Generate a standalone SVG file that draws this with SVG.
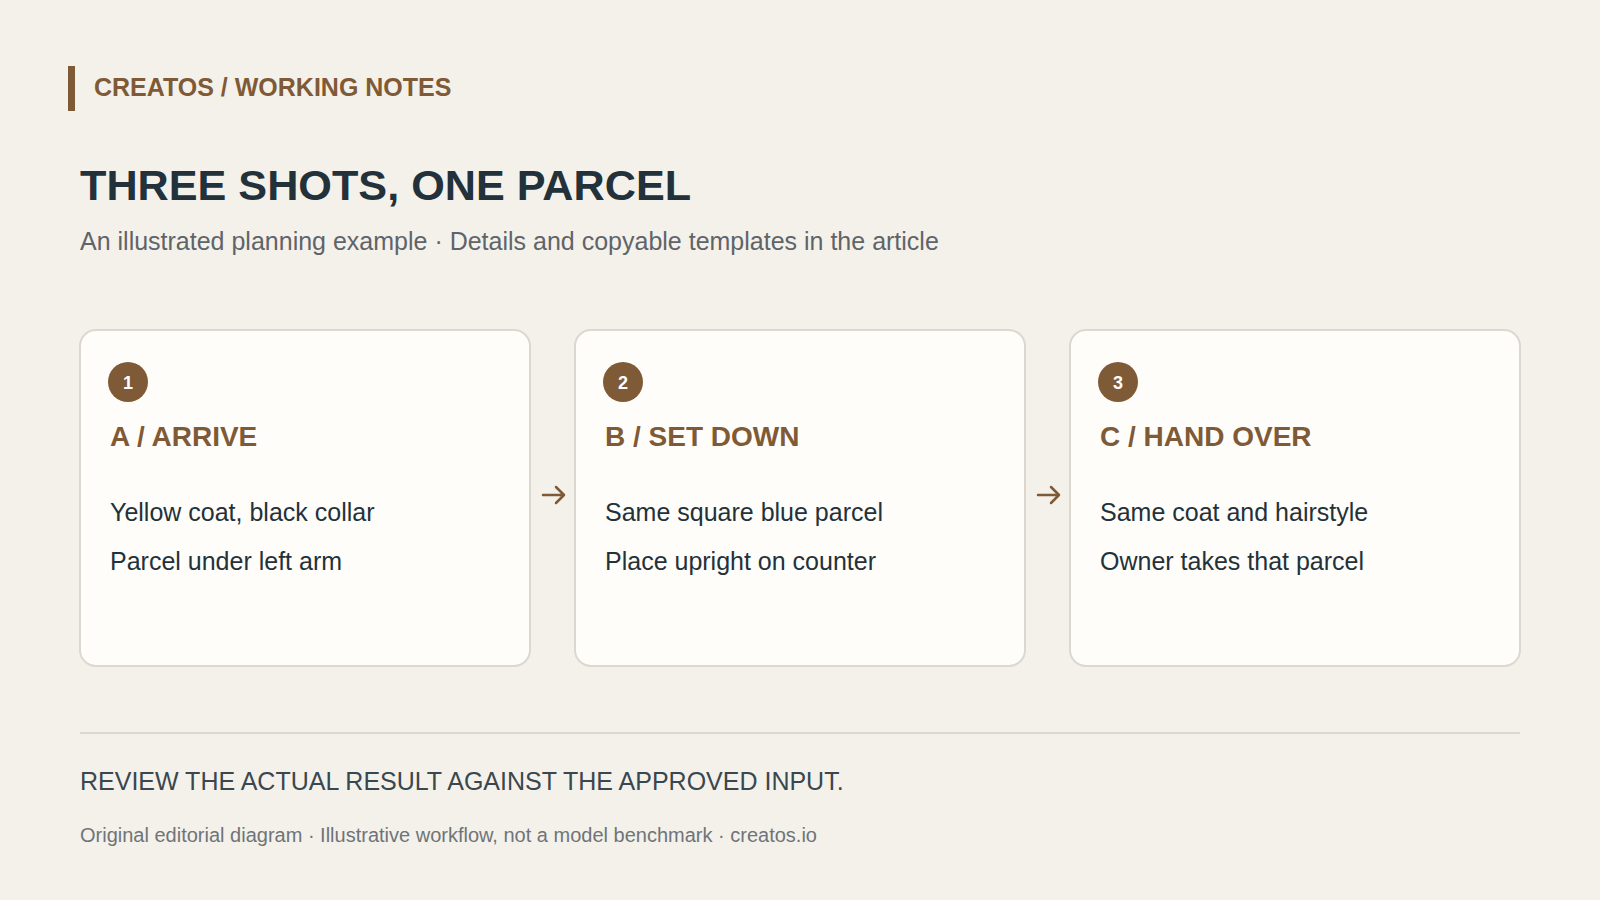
<svg xmlns="http://www.w3.org/2000/svg" width="1600" height="900" viewBox="0 0 1600 900">
<defs>
<style>
.bg{fill:#f4f1eb}
.card{fill:#fffdf9;stroke:#dcd8d0;stroke-width:2}
.badge{fill:#7f5a36}
.num{font-family:"Liberation Sans",Arial,sans-serif;font-weight:bold;font-size:18px;fill:#ffffff;text-anchor:middle}
.head{font-family:"Liberation Sans",Arial,sans-serif;font-weight:bold;font-size:28px;fill:#7f5a36}
.body{font-family:"Liberation Sans",Arial,sans-serif;font-size:25px;fill:#23323a}
.conn{stroke:#7f5a36;stroke-width:2.5;fill:none;stroke-linecap:round;stroke-linejoin:round}
</style>
</defs>
<rect class="bg" x="0" y="0" width="1600" height="900"/>
<g id="header">
<rect x="68" y="66" width="7" height="45" fill="#7f5a36"/>
<text x="94" y="96" font-family="Liberation Sans,Arial,sans-serif" font-weight="bold" font-size="25" fill="#7f5a36">CREATOS / WORKING NOTES</text>
<text x="80" y="200" font-family="Liberation Sans,Arial,sans-serif" font-weight="bold" font-size="43.2" fill="#23323a">THREE SHOTS, ONE PARCEL</text>
<text x="80" y="250" font-family="Liberation Sans,Arial,sans-serif" font-size="25" fill="#5f6468">An illustrated planning example · Details and copyable templates in the article</text>
</g>
<g id="card-a">
<rect class="card" x="80" y="330" width="450" height="336" rx="16"/>
<circle class="badge" cx="128" cy="382" r="20"/>
<text class="num" x="128" y="388.5">1</text>
<text class="head" x="110" y="446">A / ARRIVE</text>
<text class="body" x="110" y="521">Yellow coat, black collar</text>
<text class="body" x="110" y="570">Parcel under left arm</text>
</g>
<g id="card-b">
<rect class="card" x="575" y="330" width="450" height="336" rx="16"/>
<circle class="badge" cx="623" cy="382" r="20"/>
<text class="num" x="623" y="388.5">2</text>
<text class="head" x="605" y="446">B / SET DOWN</text>
<text class="body" x="605" y="521">Same square blue parcel</text>
<text class="body" x="605" y="570">Place upright on counter</text>
</g>
<g id="card-c">
<rect class="card" x="1070" y="330" width="450" height="336" rx="16"/>
<circle class="badge" cx="1118" cy="382" r="20"/>
<text class="num" x="1118" y="388.5">3</text>
<text class="head" x="1100" y="446">C / HAND OVER</text>
<text class="body" x="1100" y="521">Same coat and hairstyle</text>
<text class="body" x="1100" y="570">Owner takes that parcel</text>
</g>
<g id="connectors">
<path class="conn" d="M543 495 H564 M556 487 L564 495 L556 503"/>
<path class="conn" d="M1038 495 H1059 M1051 487 L1059 495 L1051 503"/>
</g>
<g id="footer">
<line x1="80" y1="733" x2="1520" y2="733" stroke="#dcd8d0" stroke-width="2"/>
<text x="80" y="790" font-family="Liberation Sans,Arial,sans-serif" font-size="25" fill="#3a474e">REVIEW THE ACTUAL RESULT AGAINST THE APPROVED INPUT.</text>
<text x="80" y="842" font-family="Liberation Sans,Arial,sans-serif" font-size="20" fill="#6f7478">Original editorial diagram · Illustrative workflow, not a model benchmark · creatos.io</text>
</g>
</svg>
